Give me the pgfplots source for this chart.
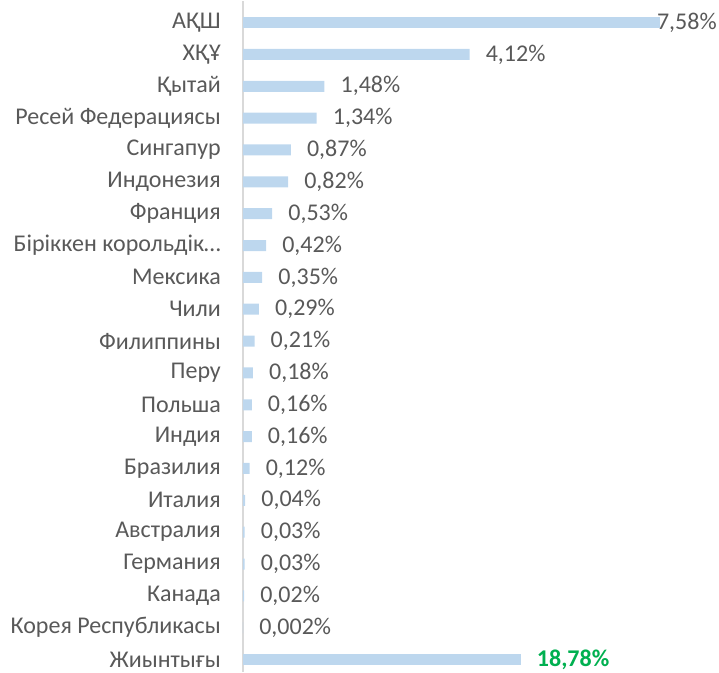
\documentclass[border=0pt]{standalone}
\usepackage{fontspec}
\setmainfont{Carlito}
\usepackage{pgfplots}
\pgfplotsset{compat=1.18}
\definecolor{barblue}{HTML}{BDD7EE}
\definecolor{txt}{HTML}{595959}
\definecolor{grn}{HTML}{00B050}
\definecolor{axgray}{HTML}{D9D9D9}
\begin{document}
\begin{tikzpicture}
\begin{axis}[
  scale only axis, width=476pt, height=671pt,
  xmin=0, xmax=8.655, ymin=-0.377, ymax=20.69,
  axis x line=none, axis y line*=left,
  axis line style={draw=axgray, line width=1.2pt},
  major tick length=0pt, ytick style={draw=none},
  xbar, bar width=11pt, bar shift=0pt,
  ytick={0,...,20},
  yticklabels={Жиынтығы, Корея Республикасы, Канада, Германия, Австралия, Италия, Бразилия, Индия, Польша, Перу, Филиппины, Чили, Мексика, Біріккен корольдік…, Франция, Индонезия, Сингапур, Ресей Федерациясы, Қытай, ХҚҰ, АҚШ},
  yticklabel style={font=\fontsize{24}{28}\selectfont, text=txt, anchor=east, inner sep=0pt, xshift=-22pt},
  nodes near coords, point meta=explicit symbolic,
  every node near coord/.append style={font=\fontsize{24}{28}\selectfont, text=txt, anchor=west, inner sep=0pt, xshift=16pt},
  clip=false,
]
\addplot[draw=none, fill=barblue] coordinates {
  (4.12,19) [4,12\%]
  (1.48,18) [1,48\%]
  (1.34,17) [1,34\%]
  (0.87,16) [0,87\%]
  (0.82,15) [0,82\%]
  (0.53,14) [0,53\%]
  (0.42,13) [0,42\%]
  (0.35,12) [0,35\%]
  (0.29,11) [0,29\%]
  (0.21,10) [0,21\%]
  (0.18,9) [0,18\%]
  (0.16,8) [0,16\%]
  (0.16,7) [0,16\%]
  (0.12,6) [0,12\%]
  (0.04,5) [0,04\%]
  (0.03,4) [0,03\%]
  (0.03,3) [0,03\%]
  (0.02,2) [0,02\%]
  (0.002,1) [0,002\%]
};
\addplot[draw=none, fill=barblue, every node near coord/.append style={xshift=-19pt}] coordinates {
  (7.58,20) [7,58\%]
};
\addplot[draw=none, fill=barblue, every node near coord/.append style={text=grn, font=\fontsize{24}{28}\selectfont\bfseries}] coordinates {
  (5.05,0) [18,78\%]
};
\end{axis}
\path ([xshift=-243pt]current axis.south west) (current axis.north east);
\end{tikzpicture}
\end{document}
